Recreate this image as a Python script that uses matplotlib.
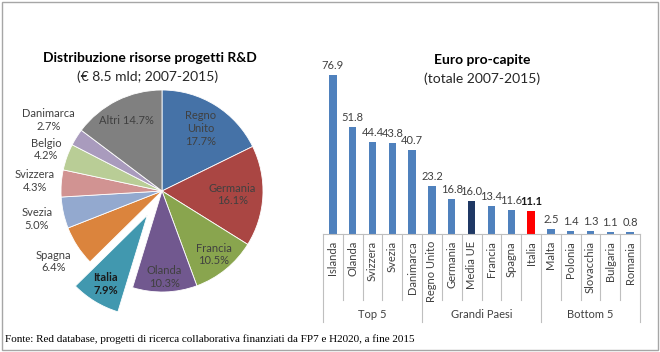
import numpy as np
import matplotlib
matplotlib.use("Agg")
import matplotlib.pyplot as plt
from matplotlib.patches import Rectangle
import matplotlib.transforms as mtransforms

plt.rcParams["font.family"] = ["Lato", "DejaVu Sans"]

# --- pie data ---
pie_labels = ["Regno\nUnito", "Germania", "Francia", "Olanda", "Italia", "Spagna",
              "Svezia", "Svizzera", "Belgio", "Danimarca", "Altri"]
pie_values = [17.7, 16.1, 10.5, 10.3, 7.9, 6.4, 5.0, 4.3, 4.2, 2.7, 14.7]
pie_colors = ["#4572A7", "#AA4643", "#89A54E", "#71588F", "#4198AF", "#DB843D",
              "#93A9CF", "#D19392", "#B9CD96", "#A99BBD", "#808080"]

# --- bar data ---
bar_labels = ["Islanda", "Olanda", "Svizzera", "Svezia", "Danimarca",
              "Regno Unito", "Germania", "Media UE", "Francia", "Spagna", "Italia",
              "Malta", "Polonia", "Slovacchia", "Bulgaria", "Romania"]
bar_values = [76.9, 51.8, 44.4, 43.8, 40.7, 23.2, 16.8, 16.0, 13.4, 11.6, 11.1,
              2.5, 1.4, 1.3, 1.1, 0.8]
groups = ["Top 5", "Grandi Paesi", "Bottom 5"]
group_sizes = [5, 6, 5]

W, H = 660, 352
fig = plt.figure(figsize=(W / 100, H / 100), dpi=100)
fig.patch.set_facecolor("white")

def px(x0, y0, x1, y1):
    # pixel box (top-left origin) -> figure fraction rect
    return [x0 / W, 1 - y1 / H, (x1 - x0) / W, (y1 - y0) / H]

txt = "#404040"
fs = 8.0

# ---------------- pie ----------------
R = 101
cx, cy = 162, 191
lim = 1.32
ax1 = fig.add_axes(px(cx - lim * R, cy - lim * R, cx + lim * R, cy + lim * R))
explode = [0.28 if l == "Italia" else 0 for l in pie_labels]
wedges, _ = ax1.pie(pie_values, colors=pie_colors, startangle=90, counterclock=False,
                    explode=explode, radius=1,
                    wedgeprops=dict(edgecolor="white", linewidth=0.6))
ax1.set_xlim(-lim, lim)
ax1.set_ylim(-lim, lim)
ax1.set_aspect("equal")
ax1.axis("off")

dist = [0.73, 0.70, 0.81, 0.85, 0.80, 1.28, 1.27, 1.26, 1.22, 1.33, 0.78]
for w, lab, v, d in zip(wedges, pie_labels, pie_values, dist):
    ang = np.deg2rad((w.theta1 + w.theta2) / 2)
    ox, oy = w.center
    x = ox + d * np.cos(ang)
    y = oy + d * np.sin(ang)
    s = f"{lab} {v:.1f}%" if lab == "Altri" else f"{lab}\n{v:.1f}%"
    it = lab == "Italia"
    ax1.text(x, y, s, ha="center", va="center", fontsize=fs,
             color="#1a1a1a" if it else txt,
             fontweight="bold" if it else "normal", linespacing=1.2)

fig.text(150 / W, 1 - 58 / H, "Distribuzione risorse progetti R&D", ha="center",
         va="center", fontsize=10, fontweight="bold", color="black")
fig.text(148 / W, 1 - 77 / H, "(€ 8.5 mld; 2007-2015)", ha="center", va="center",
         fontsize=10, color="#262626")

# ---------------- bars ----------------
ax2 = fig.add_axes(px(323, 60, 640, 234))
x = np.arange(len(bar_values))
bar_colors = ["#4F81BD"] * len(bar_values)
bar_colors[bar_labels.index("Media UE")] = "#1F3864"
bar_colors[bar_labels.index("Italia")] = "#FF0000"
ax2.bar(x, bar_values, width=0.37, color=bar_colors)
ax2.set_xlim(-0.5, len(bar_values) - 0.5)
ax2.set_ylim(0, 84)
for s in ["top", "right", "left"]:
    ax2.spines[s].set_visible(False)
ax2.spines["bottom"].set_color("#BFBFBF")
ax2.set_yticks([])
ax2.set_xticks(x)
ax2.set_xticklabels(bar_labels, rotation=90, fontsize=fs, color=txt, va="top")
ax2.tick_params(axis="x", length=0, pad=5)

for xi, v, lab in zip(x, bar_values, bar_labels):
    bold = lab == "Italia"
    ax2.annotate(f"{v:.1f}", (xi, v), xytext=(0, 3), textcoords="offset points",
                 ha="center", va="bottom", fontsize=fs,
                 color="#1a1a1a" if bold else txt,
                 fontweight="bold" if bold else "normal")

trans = mtransforms.blended_transform_factory(ax2.transData, ax2.transAxes)
inner_bottom = -66 / 174
group_bottom = -88 / 174
bounds = np.cumsum([0] + group_sizes) - 0.5
for b in np.arange(-0.5, len(bar_values)):
    yb = group_bottom if b in bounds else inner_bottom
    ax2.plot([b, b], [0, yb], transform=trans, color="#BFBFBF", lw=0.8, clip_on=False)
for g, a, b in zip(groups, bounds[:-1], bounds[1:]):
    ax2.text((a + b) / 2, -81 / 174, g, transform=trans, ha="center", va="center",
             fontsize=fs, color=txt)

fig.text(482 / W, 1 - 60 / H, "Euro pro-capite", ha="center", va="center",
         fontsize=10, fontweight="bold", color="black")
fig.text(482 / W, 1 - 79 / H, "(totale 2007-2015)", ha="center", va="center",
         fontsize=10, color="#262626")

# ---------------- caption & frame ----------------
fig.text(5 / W, 1 - 339 / H,
         "Fonte: Red database, progetti di ricerca collaborativa finanziati da FP7 e H2020, a fine 2015",
         ha="left", va="center", fontsize=8.0, family="Liberation Serif", color="black")
fig.add_artist(Rectangle((2 / W, 2 / H), (W - 4) / W, (H - 4) / H, transform=fig.transFigure,
                         fill=False, edgecolor="#A6A6A6", lw=1))

fig.savefig("out.png", dpi=100)
